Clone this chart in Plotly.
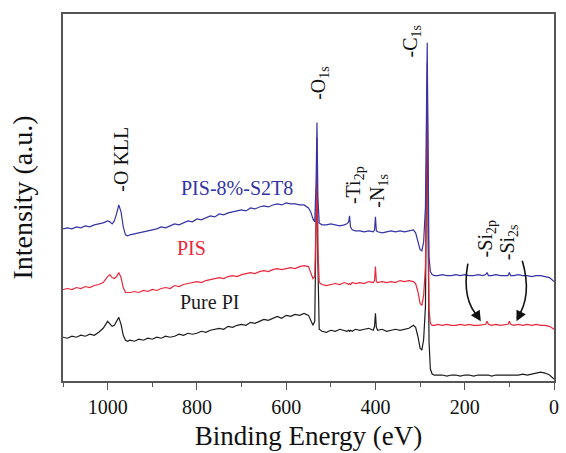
import plotly.graph_objects as go

# Binding energy (eV)
be = [1100, 1090, 1080, 1070, 1060, 1050, 1040, 1030, 1020, 1010,
      1000, 995, 990, 985, 980, 975, 970, 965, 960, 955,
      950, 940, 930, 920, 910, 900, 890, 880, 870, 860,
      850, 840, 830, 820, 810, 800, 790, 780, 770, 760,
      750, 740, 730, 720, 710, 700, 690, 680, 670, 660,
      650, 640, 630, 620, 610, 600, 590, 580, 570, 560,
      550, 545, 540, 536, 533, 531, 529, 526, 520, 510,
      500, 490, 480, 470, 464, 460, 458, 456, 452, 445,
      435, 425, 415, 405, 402, 400, 398, 395, 385, 375,
      365, 355, 345, 335, 325, 315, 310, 305, 300, 296,
      292, 288, 286, 284, 282, 280, 277, 273, 268, 260,
      250, 240, 230, 220, 210, 200, 190, 180, 170, 160,
      153, 150, 147, 140, 130, 120, 110, 103, 100, 97,
      90, 80, 70, 60, 50, 40, 30, 20, 10, 0]

pure_pi = [44, 43, 45, 44, 46, 45, 47, 46, 49, 53,
           60, 57, 55, 56, 60, 64, 57, 46, 41, 40,
           41, 40, 42, 41, 43, 42, 44, 43, 45, 44,
           45, 47, 46, 48, 47, 48, 50, 49, 51, 52,
           53, 52, 55, 54, 56, 57, 56, 59, 58, 60,
           62, 61, 63, 65, 63, 66, 65, 67, 66, 68,
           66, 61, 56, 60, 140, 225, 120, 52, 50, 49,
           51, 50, 52, 51, 50, 51, 50, 51, 50, 52,
           51, 52, 53, 51, 55, 68, 54, 51, 52, 50,
           51, 52, 51, 52, 53, 56, 54, 45, 33, 31,
           42, 75, 160, 300, 150, 40, 12, 7, 6, 6,
           6, 5, 6, 6, 5, 6, 6, 5, 6, 6,
           6, 6, 6, 5, 6, 6, 6, 6, 6, 6,
           6, 6, 7, 6, 7, 8, 9, 8, 6, 2]

pis = [92, 93, 92, 94, 93, 95, 94, 96, 97, 99,
       105, 107, 104, 103, 105, 109, 104, 94, 89, 89,
       89, 90, 89, 91, 90, 92, 91, 93, 94, 93,
       96, 95, 97, 98, 99, 100, 99, 101, 102, 103,
       104, 103, 105, 106, 105, 107, 108, 109, 108, 110,
       111, 110, 112, 113, 112, 113, 114, 113, 115, 116,
       115, 109, 103, 105, 160, 245, 135, 99, 97, 96,
       97, 98, 97, 99, 98, 97, 98, 97, 99, 98,
       99, 98, 100, 99, 101, 115, 100, 99, 100, 99,
       100, 99, 101, 100, 101, 100, 98, 90, 78, 76,
       86, 115, 200, 320, 180, 72, 58, 56, 56, 57,
       56, 57, 56, 56, 57, 56, 57, 56, 56, 57,
       57, 60, 57, 56, 57, 56, 57, 57, 60, 57,
       56, 57, 56, 57, 56, 57, 56, 56, 55, 52]

pis_s2t8 = [153, 154, 153, 155, 154, 156, 155, 157, 158, 159,
            161, 160, 158, 161, 168, 177, 170, 155, 147, 146,
            147, 148, 149, 150, 151, 152, 153, 155, 154, 156,
            158, 157, 159, 161, 160, 163, 162, 164, 166, 165,
            168, 167, 169, 170, 171, 172, 171, 174, 173, 175,
            176, 175, 177, 178, 177, 179, 178, 178, 177, 177,
            174, 170, 163, 160, 200, 260, 185, 159, 157, 157,
            158, 157, 156, 157, 158, 160, 166, 155, 152, 151,
            151, 150, 151, 150, 152, 165, 151, 150, 149, 150,
            151, 150, 151, 150, 151, 152, 149, 141, 132, 131,
            140, 175, 250, 340, 220, 125, 110, 107, 106, 106,
            107, 106, 106, 107, 106, 107, 106, 106, 107, 106,
            107, 109, 106, 106, 107, 106, 106, 106, 109, 106,
            106, 107, 106, 106, 105, 106, 106, 105, 104, 100]

series_names = ["Pure PI", "PIS", "PIS-8%-S2T8"]
series_colors = ["#1c1c1c", "#e8283a", "#3434a6"]

FONT = "Liberation Serif, Times New Roman, DejaVu Serif, serif"

fig = go.Figure()
for name, ys, col in zip(series_names, [pure_pi, pis, pis_s2t8], series_colors):
    fig.add_trace(go.Scatter(x=be, y=ys, mode="lines", name=name,
                             line=dict(color=col, width=1.2), showlegend=False))

# series labels
labels = [("Pure PI", 772, 79, "#1c1c1c"), ("PIS", 812, 134, "#e8283a"),
          ("PIS-8%-S2T8", 710, 194, "#3434a6")]
for txt, x, y, c in labels:
    fig.add_annotation(x=x, y=y, text=txt, showarrow=False,
                       font=dict(family=FONT, size=20, color=c))

# peak labels (rotated)
peaks = [("-O KLL", 969, 223), ("-O<sub>1s</sub>", 526, 300), ("-C<sub>1s</sub>", 319, 341),
         ("-Ti<sub>2p</sub>", 448, 197), ("-N<sub>1s</sub>", 395, 191),
         ("-Si<sub>2p</sub>", 151, 143), ("-Si<sub>2s</sub>", 102, 140)]
for txt, x, y in peaks:
    fig.add_annotation(x=x, y=y, text=txt, showarrow=False, textangle=-90,
                       font=dict(family=FONT, size=20, color="#111"))

# curved arrows
fig.add_shape(type="path", xref="x", yref="y",
              path="M 193,118 Q 208,80 166,63",
              line=dict(color="#111", width=1.6))
fig.add_shape(type="path", xref="x", yref="y",
              path="M 71,121 Q 48,85 83,63",
              line=dict(color="#111", width=1.6))
fig.add_annotation(x=164, y=60, ax=-5, ay=-8, text="", showarrow=True,
                   arrowhead=2, arrowsize=1.3, arrowwidth=1.6, arrowcolor="#111")
fig.add_annotation(x=84, y=60, ax=4, ay=-8, text="", showarrow=True,
                   arrowhead=2, arrowsize=1.3, arrowwidth=1.6, arrowcolor="#111")

fig.update_layout(
    width=566, height=453,
    margin=dict(l=63, r=7, t=14, b=71),
    plot_bgcolor="white", paper_bgcolor="white",
    font=dict(family=FONT, color="#111"),
)
fig.update_xaxes(
    range=[1100, 0], showline=True, linecolor="#555", linewidth=1.5, mirror=True,
    ticks="outside", ticklen=7, tickcolor="#555", tickwidth=1.3,
    tick0=0, dtick=200, showgrid=False, zeroline=False,
    tickfont=dict(family=FONT, size=20, color="#111"),
    minor=dict(dtick=100, tick0=0, ticks="outside", ticklen=4, tickcolor="#555", tickwidth=1.3),
    title=dict(text="Binding Energy (eV)", font=dict(family=FONT, size=27, color="#111"), standoff=9),
)
fig.update_yaxes(
    range=[0, 369], showline=True, linecolor="#555", linewidth=1.5, mirror=True,
    ticks="", showticklabels=False, showgrid=False, zeroline=False,
    title=dict(text="Intensity (a.u.)", font=dict(family=FONT, size=28, color="#111"), standoff=20),
)

fig.write_html("out.html")
